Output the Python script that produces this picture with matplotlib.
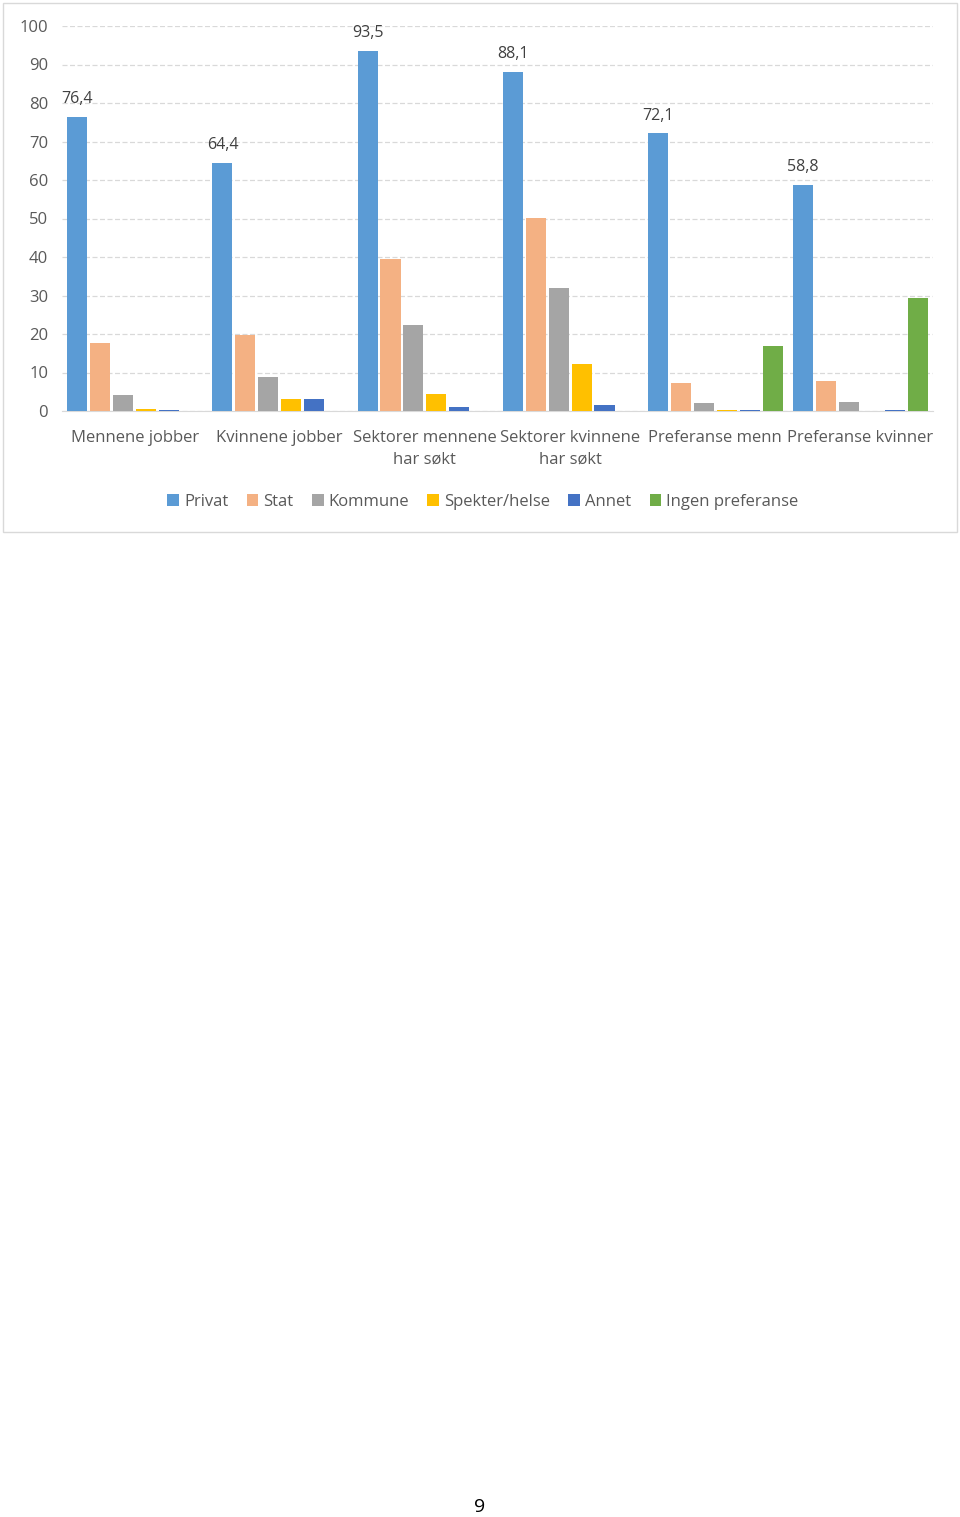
import numpy as np
import matplotlib.pyplot as plt
from matplotlib.patches import Rectangle

categories = ["Mennene jobber", "Kvinnene jobber", "Sektorer mennene\nhar søkt",
              "Sektorer kvinnene\nhar søkt", "Preferanse menn", "Preferanse kvinner"]
series = ["Privat", "Stat", "Kommune", "Spekter/helse", "Annet", "Ingen preferanse"]
privat = [76.4, 64.4, 93.5, 88.1, 72.1, 58.8]
stat = [17.7, 19.7, 39.5, 50.1, 7.3, 7.8]
kommune = [4.2, 8.8, 22.3, 32.0, 2.1, 2.3]
spekter = [0.5, 3.1, 4.4, 12.2, 0.3, 0.0]
annet = [0.3, 3.1, 1.0, 1.5, 0.3, 0.3]
ingen = [0.0, 0.0, 0.0, 0.0, 16.9, 29.4]
colors = ["#5B9BD5", "#F4B183", "#A5A5A5", "#FFC000", "#4472C4", "#70AD47"]

plt.rcParams['font.family'] = ['Open Sans', 'DejaVu Sans']
txt = "#595959"

fig = plt.figure(figsize=(9.6, 15.17), dpi=100)
fig.patches.append(Rectangle((3 / 960, 1 - 532 / 1517), 954 / 960, 529 / 1517,
                             transform=fig.transFigure, fill=False,
                             edgecolor="#D9D9D9", linewidth=1))
ax = fig.add_axes([62 / 960, 1106 / 1517, 871 / 960, 385 / 1517])

x = np.arange(len(categories))
slot = 0.158
width = 0.138
data = [privat, stat, kommune, spekter, annet, ingen]
for j, (name, vals) in enumerate(zip(series, data)):
    bars = ax.bar(x + (j - 2.5) * slot, vals, width, color=colors[j], label=name, zorder=3)
    if j == 0:
        for b, v in zip(bars, vals):
            ax.text(b.get_x() + b.get_width() / 2, v + 2.5, f"{v:.1f}".replace(".", ","),
                    ha="center", va="bottom", fontsize=11.5, color="#404040")

ax.set_xlim(-0.5, 5.5)
ax.set_ylim(0, 100)
ax.set_yticks(range(0, 101, 10))
ax.yaxis.grid(True, linestyle=(0, (4, 2)), color="#D9D9D9", linewidth=0.9, zorder=0)
ax.set_xticks(x)
ax.set_xticklabels(categories, fontsize=12, color=txt, linespacing=1.45)
ax.tick_params(axis="y", labelsize=12, labelcolor=txt, length=0, pad=10)
ax.tick_params(axis="x", length=0, pad=14)
for s in ["top", "right", "left"]:
    ax.spines[s].set_visible(False)
ax.spines["bottom"].set_color("#D9D9D9")

fig.legend(loc="center", bbox_to_anchor=(483 / 960, 1 - 502 / 1517), ncol=6,
           frameon=False, fontsize=12, handlelength=0.7, handleheight=0.7,
           handletextpad=0.3, columnspacing=1.1, labelcolor=txt)

fig.text(0.5, 1 - 1507 / 1517, "9", ha="center", va="center", fontsize=14, color="black")

fig.savefig("out.png", dpi=100)
